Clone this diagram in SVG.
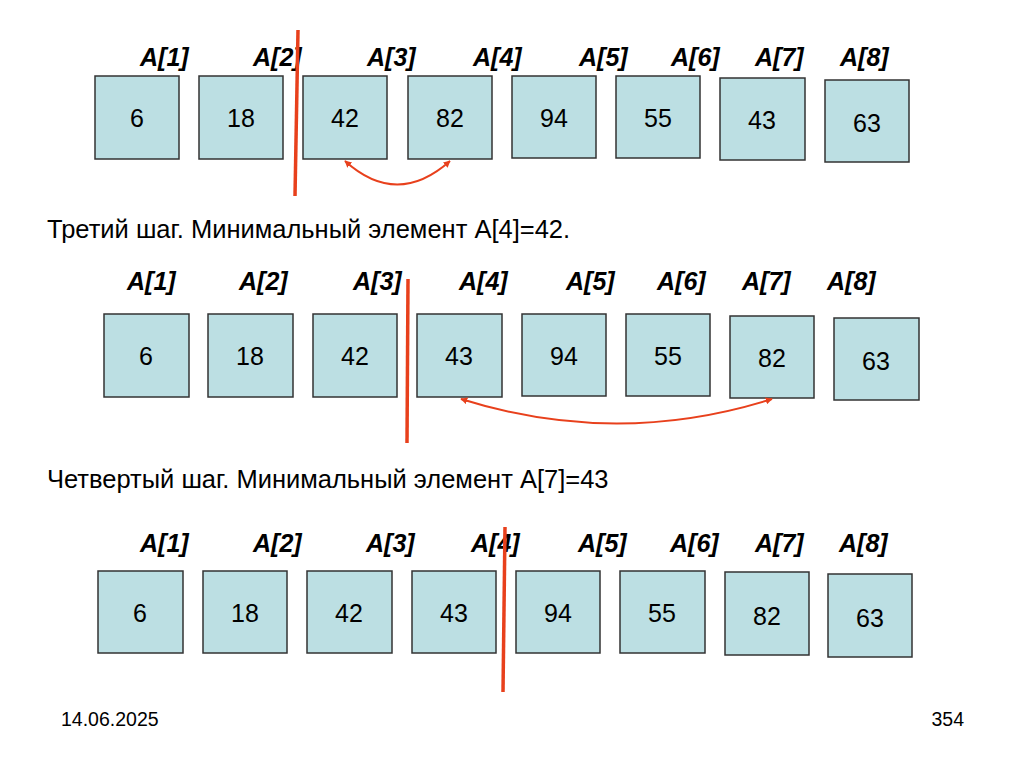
<svg xmlns="http://www.w3.org/2000/svg" width="1024" height="767" viewBox="0 0 1024 767">
<defs>
<style>
.box{fill:#BCDFE3;stroke:#333;stroke-width:1.5}
.num{font-family:"Liberation Sans",Arial,sans-serif;font-size:25px;fill:#000;text-anchor:middle}
.lbl{font-family:"Liberation Sans",Arial,sans-serif;font-size:25px;font-weight:bold;font-style:italic;fill:#000}
.txt{font-family:"Liberation Sans",Arial,sans-serif;font-size:25.5px;fill:#000}
.foot{font-family:"Liberation Sans",Arial,sans-serif;font-size:19.5px;fill:#000}
.sep{stroke:#E8401C;stroke-width:3.5;fill:none}
.swap{stroke:#E8401C;stroke-width:2;fill:none;marker-start:url(#ah);marker-end:url(#ah)}
</style>
<marker id="ah" viewBox="0 0 10 10" refX="9" refY="5" markerWidth="7" markerHeight="7" orient="auto-start-reverse" markerUnits="userSpaceOnUse">
<path d="M0,0 L10,5 L0,10 z" fill="#E8401C"/>
</marker>
</defs>
<rect width="1024" height="767" fill="#fff"/>

<g id="labels1">
<text class="lbl" x="140" y="66">A[1]</text>
<text class="lbl" x="253" y="66">A[2]</text>
<text class="lbl" x="367" y="66">A[3]</text>
<text class="lbl" x="473" y="66">A[4]</text>
<text class="lbl" x="579" y="66">A[5]</text>
<text class="lbl" x="671" y="66">A[6]</text>
<text class="lbl" x="755" y="66">A[7]</text>
<text class="lbl" x="840" y="66">A[8]</text>
</g>
<g id="r1n1"><rect class="box" x="95" y="76" width="84" height="83"/><text class="num" x="137" y="127">6</text></g>
<g id="r1n2"><rect class="box" x="199" y="76" width="84" height="83"/><text class="num" x="241" y="127">18</text></g>
<g id="r1n3"><rect class="box" x="303" y="76" width="84" height="83"/><text class="num" x="345" y="127">42</text></g>
<g id="r1n4"><rect class="box" x="408" y="76" width="84" height="83"/><text class="num" x="450" y="127">82</text></g>
<g id="r1n5"><rect class="box" x="512" y="76" width="84" height="82"/><text class="num" x="554" y="127">94</text></g>
<g id="r1n6"><rect class="box" x="616" y="76" width="84" height="82"/><text class="num" x="658" y="127">55</text></g>
<g id="r1n7"><rect class="box" x="720" y="78" width="85" height="82"/><text class="num" x="762" y="129">43</text></g>
<g id="r1n8"><rect class="box" x="825" y="80" width="84" height="82"/><text class="num" x="867" y="132">63</text></g>

<text class="txt" x="47" y="238">Третий шаг. Минимальный элемент A[4]=42.</text>

<g id="labels2">
<text class="lbl" x="127" y="290">A[1]</text>
<text class="lbl" x="239" y="290">A[2]</text>
<text class="lbl" x="353" y="290">A[3]</text>
<text class="lbl" x="459" y="290">A[4]</text>
<text class="lbl" x="566" y="290">A[5]</text>
<text class="lbl" x="657" y="290">A[6]</text>
<text class="lbl" x="742" y="290">A[7]</text>
<text class="lbl" x="827" y="290">A[8]</text>
</g>
<g id="r2n1"><rect class="box" x="104" y="314" width="85" height="83"/><text class="num" x="146" y="365">6</text></g>
<g id="r2n2"><rect class="box" x="208" y="314" width="85" height="83"/><text class="num" x="250" y="365">18</text></g>
<g id="r2n3"><rect class="box" x="313" y="314" width="84" height="83"/><text class="num" x="355" y="365">42</text></g>
<g id="r2n4"><rect class="box" x="417" y="314" width="85" height="83"/><text class="num" x="459" y="365">43</text></g>
<g id="r2n5"><rect class="box" x="522" y="314" width="84" height="82"/><text class="num" x="564" y="365">94</text></g>
<g id="r2n6"><rect class="box" x="626" y="314" width="84" height="82"/><text class="num" x="668" y="365">55</text></g>
<g id="r2n7"><rect class="box" x="730" y="316" width="84" height="82"/><text class="num" x="772" y="367">82</text></g>
<g id="r2n8"><rect class="box" x="834" y="318" width="85" height="82"/><text class="num" x="876" y="370">63</text></g>

<text class="txt" x="47" y="488">Четвертый шаг. Минимальный элемент A[7]=43</text>

<g id="labels3">
<text class="lbl" x="140" y="552">A[1]</text>
<text class="lbl" x="253" y="552">A[2]</text>
<text class="lbl" x="366" y="552">A[3]</text>
<text class="lbl" x="471" y="552">A[4]</text>
<text class="lbl" x="578" y="552">A[5]</text>
<text class="lbl" x="670" y="552">A[6]</text>
<text class="lbl" x="755" y="552">A[7]</text>
<text class="lbl" x="839" y="552">A[8]</text>
</g>
<g id="r3n1"><rect class="box" x="98" y="571" width="85" height="82"/><text class="num" x="140" y="622">6</text></g>
<g id="r3n2"><rect class="box" x="203" y="571" width="84" height="82"/><text class="num" x="245" y="622">18</text></g>
<g id="r3n3"><rect class="box" x="307" y="571" width="85" height="82"/><text class="num" x="349" y="622">42</text></g>
<g id="r3n4"><rect class="box" x="412" y="571" width="84" height="82"/><text class="num" x="454" y="622">43</text></g>
<g id="r3n5"><rect class="box" x="516" y="571" width="84" height="82"/><text class="num" x="558" y="622">94</text></g>
<g id="r3n6"><rect class="box" x="620" y="571" width="85" height="82"/><text class="num" x="662" y="622">55</text></g>
<g id="r3n7"><rect class="box" x="725" y="572" width="84" height="83"/><text class="num" x="767" y="625">82</text></g>
<g id="r3n8"><rect class="box" x="828" y="574" width="84" height="83"/><text class="num" x="870" y="627">63</text></g>

<g id="connectors">
<line class="sep" x1="298" y1="30" x2="295" y2="196"/>
<line class="sep" x1="408" y1="279" x2="407" y2="443"/>
<line class="sep" x1="505" y1="527" x2="503" y2="692"/>
<path class="swap" d="M345,161 Q397,208 450,161"/>
<path class="swap" d="M461,399 Q617,448 772,399"/>
</g>

<text class="foot" x="61" y="726">14.06.2025</text>
<text class="foot" x="964" y="726" text-anchor="end">354</text>
</svg>
